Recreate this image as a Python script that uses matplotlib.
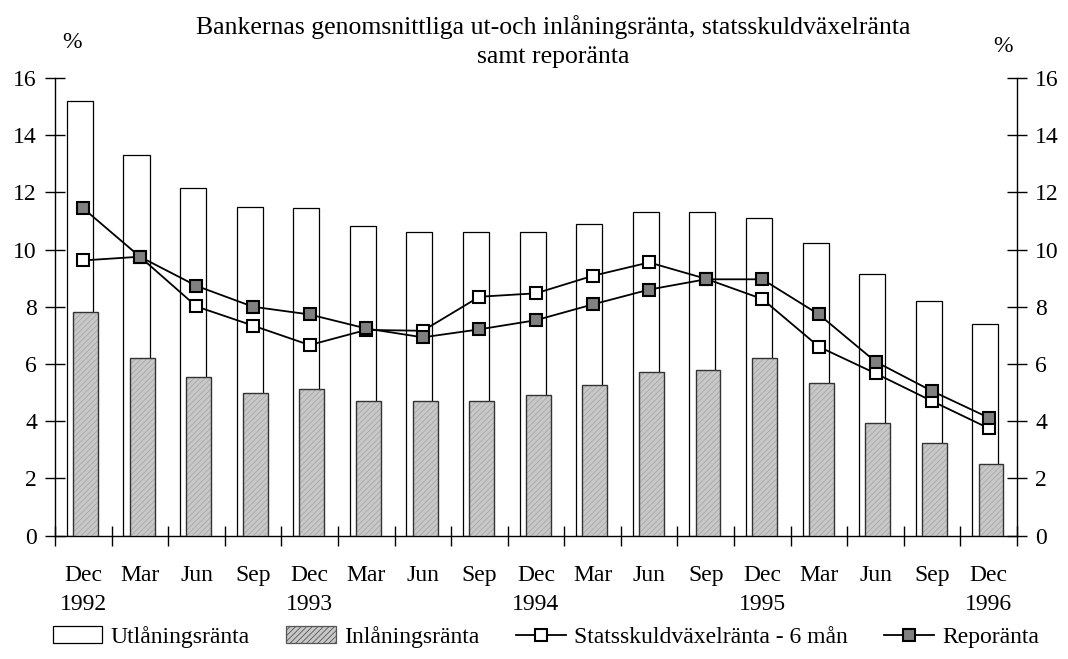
import matplotlib
matplotlib.use('Agg')
from matplotlib import pyplot as plt
from matplotlib.lines import Line2D
from matplotlib.patches import Patch
import numpy as np

plt.rcParams['font.family'] = ['Liberation Serif', 'DejaVu Serif']
plt.rcParams['hatch.linewidth'] = 0.6

months = ['Dec', 'Mar', 'Jun', 'Sep', 'Dec', 'Mar', 'Jun', 'Sep', 'Dec',
          'Mar', 'Jun', 'Sep', 'Dec', 'Mar', 'Jun', 'Sep', 'Dec']
years = ['1992', '', '', '', '1993', '', '', '', '1994',
         '', '', '', '1995', '', '', '', '1996']

utlaning = [15.18, 13.29, 12.17, 11.5, 11.44, 10.82, 10.62, 10.62, 10.62,
            10.88, 11.3, 11.3, 11.09, 10.22, 9.15, 8.21, 7.38]
inlaning = [7.8, 6.2, 5.53, 4.97, 5.11, 4.71, 4.71, 4.71, 4.9,
            5.25, 5.71, 5.78, 6.2, 5.32, 3.92, 3.22, 2.49]
statsskuld = [9.62, 9.75, 8.01, 7.34, 6.66, 7.19, 7.16, 8.35, 8.47,
              9.08, 9.55, 8.98, 8.27, 6.6, 5.67, 4.7, 3.75]
repo = [11.44, 9.75, 8.73, 8.0, 7.73, 7.24, 6.93, 7.21, 7.53,
        8.08, 8.6, 8.96, 8.96, 7.73, 6.08, 5.05, 4.12]

x = np.arange(len(months))
fs = 17

fig = plt.figure(figsize=(10.68, 6.59), dpi=100)
ax = fig.add_axes([55 / 1068, 1 - 535.5 / 659, (1017 - 55) / 1068, (535.5 - 78) / 659])

ax.bar(x - 0.06, utlaning, width=0.46, color='white', edgecolor='black', linewidth=0.9, zorder=2)
# gray bars: light hatch first, then the dark outline on top
ax.bar(x + 0.04, inlaning, width=0.44, color='#c8c8c8', edgecolor='#a8a8a8', linewidth=0,
       hatch='//////', zorder=3)
ax.bar(x + 0.04, inlaning, width=0.44, fill=False, edgecolor='#333333', linewidth=1.0, zorder=4)

ax.plot(x, statsskuld, color='black', lw=1.3, marker='s', ms=8, mfc='white', mec='black',
        mew=1.5, zorder=5)
ax.plot(x, repo, color='black', lw=1.3, marker='s', ms=8, mfc='#808080', mec='black',
        mew=1.5, zorder=6)

ax.set_xlim(-0.5, len(months) - 0.5)
ax.set_ylim(0, 16)
ax.set_yticks(range(0, 17, 2))
ax.tick_params(axis='y', which='major', direction='inout', length=14, width=1,
               labelsize=fs, pad=6, left=True, right=True, labelleft=True, labelright=True)
ax.set_xticks(np.arange(-0.5, len(months), 1.0))
ax.set_xticklabels([])
ax.tick_params(axis='x', which='major', direction='inout', length=14, width=1)
ax.set_xticks(x, minor=True)
ax.set_xticklabels([m + '\n' + y for m, y in zip(months, years)], minor=True,
                   fontsize=fs, linespacing=1.55)
ax.tick_params(axis='x', which='minor', length=0, pad=21)
ax.spines['top'].set_visible(False)
for s in ['left', 'right', 'bottom']:
    ax.spines[s].set_linewidth(1)

fig.text(553 / 1068, 1 - 27 / 659, 'Bankernas genomsnittliga ut-och inlåningsränta, statsskuldväxelränta',
         ha='center', va='center', fontsize=18.5)
fig.text(553 / 1068, 1 - 57 / 659, 'samt reporänta', ha='center', va='center', fontsize=18.5)
fig.text(72 / 1068, 1 - 43 / 659, '%', ha='center', va='center', fontsize=fs)
fig.text(1003 / 1068, 1 - 46 / 659, '%', ha='center', va='center', fontsize=fs)

handles = [
    Patch(facecolor='white', edgecolor='black', linewidth=0.9),
    Patch(facecolor='#c8c8c8', edgecolor='#555555', linewidth=0.9, hatch='//////'),
    Line2D([], [], color='black', lw=1.3, marker='s', ms=8, mfc='white', mec='black', mew=1.5),
    Line2D([], [], color='black', lw=1.3, marker='s', ms=8, mfc='#808080', mec='black', mew=1.5),
]
labels = ['Utlåningsränta', 'Inlåningsränta', 'Statsskuldväxelränta - 6 mån', 'Reporänta']
fig.legend(handles, labels, loc='center', bbox_to_anchor=(546 / 1068, 1 - 637 / 659), ncol=4,
           frameon=False, fontsize=fs, handlelength=2.1, handletextpad=0.35, columnspacing=1.55,
           borderaxespad=0)

plt.savefig('out.png', dpi=100)
